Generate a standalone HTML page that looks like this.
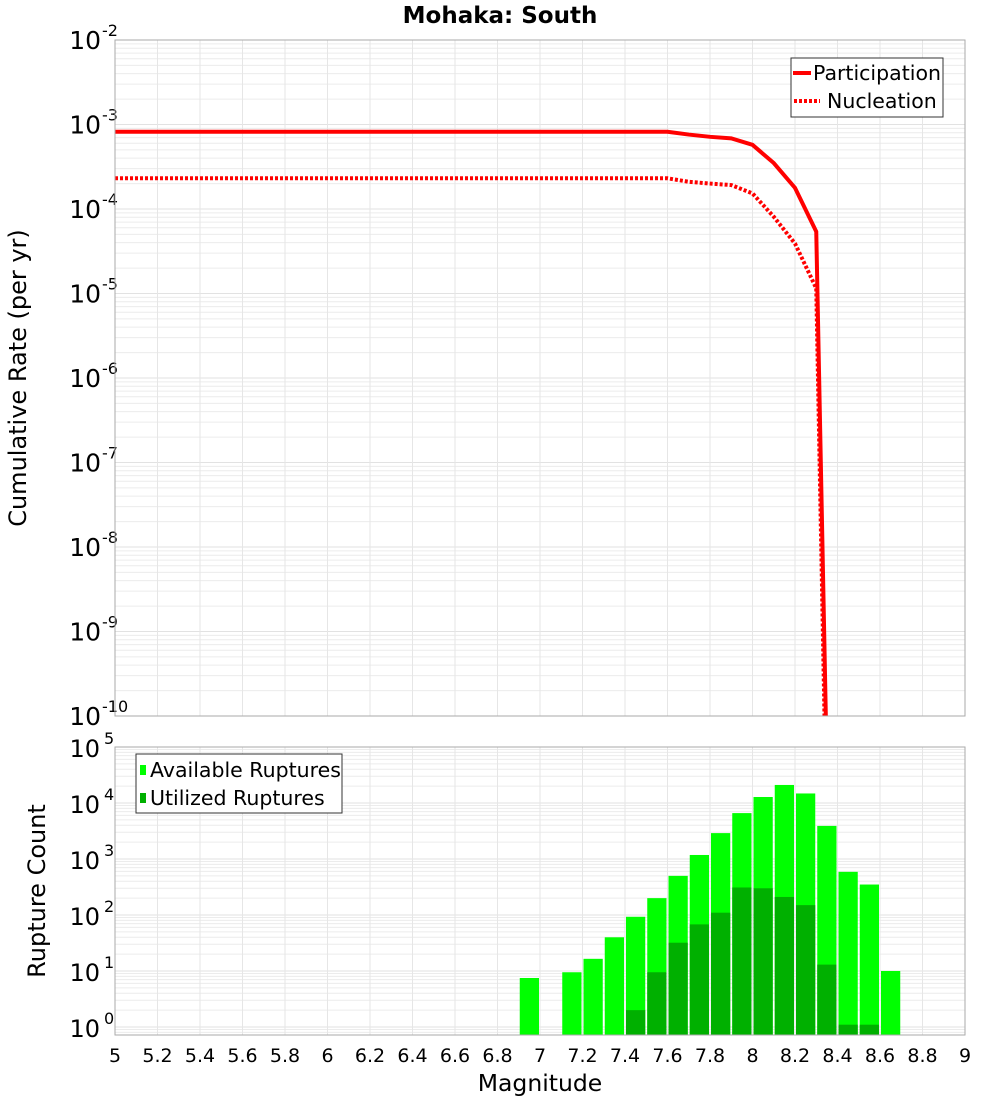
<!DOCTYPE html>
<html><head><meta charset="utf-8"><style>
html,body{margin:0;background:#fff;font-family:"DejaVu Sans","Liberation Sans",sans-serif;width:1000px;height:1100px;overflow:hidden;}
svg{display:block;}
svg text{font-family:"DejaVu Sans","Liberation Sans",sans-serif;}
</style></head><body>
<svg id="chart" width="1000" height="1100" xmlns="http://www.w3.org/2000/svg"></svg>
<script>
const magBins=[6.95,7.05,7.15,7.25,7.35,7.45,7.55,7.65,7.75,7.85,7.95,8.05,8.15,8.25,8.35,8.45,8.55,8.65];
const availCounts=[7.5,0,9.5,16.5,40,93,200,500,1180,2900,6600,12800,21000,14800,3900,590,350,10];
const utilCounts=[0,0,0,0,0,2,9.5,32,68,110,310,300,210,150,13,1.1,1.1,0];
const partMags=[5.0,7.6,7.7,7.8,7.9,8.0,8.1,8.2,8.3,8.4];
const partRates=[8.2e-4,8.2e-4,7.6e-4,7.15e-4,6.85e-4,5.75e-4,3.5e-4,1.78e-4,5.4e-5,1e-17];
const nuclMags=[5.0,7.6,7.7,7.8,7.9,8.0,8.1,8.2,8.3,8.4];
const nuclRates=[2.31e-4,2.31e-4,2.1e-4,2.0e-4,1.92e-4,1.53e-4,8.1e-5,3.9e-5,1.15e-5,1e-18];
const xTicks=[5,5.2,5.4,5.6,5.8,6,6.2,6.4,6.6,6.8,7,7.2,7.4,7.6,7.8,8,8.2,8.4,8.6,8.8,9];
const topDecades=[-2,-3,-4,-5,-6,-7,-8,-9,-10];
const botDecades=[5,4,3,2,1,0];

const NS="http://www.w3.org/2000/svg";
const svg=document.getElementById('chart');
function mk(tag,attrs,parent){const e=document.createElementNS(NS,tag);for(const k in attrs)e.setAttribute(k,attrs[k]);(parent||svg).appendChild(e);return e;}
const L=115,R=965;
const xS=m=>L+(m-5)/4*(R-L);
const T1=40,B1=716;
const yTop=v=>T1+(-2-Math.log10(v))*(B1-T1)/8;
const T2=747,B2=1035,dec2=56;
const yBot=v=>T2+(5-Math.log10(v))*dec2;

let t=mk('text',{x:500,y:23,'text-anchor':'middle','font-size':23,'font-weight':'bold'});t.textContent='Mohaka: South';


function grid(T,B,ymap,dmin,dmax,gname){
  const g=mk('g',{});
  
  for(let d=dmin;d<=dmax;d++){for(let k=1;k<10;k++){const y=ymap(k*Math.pow(10,d));if(y<T-0.5||y>B+0.5)continue;
    mk('line',{x1:L,x2:R,y1:y,y2:y,stroke:k==1?'#e2e2e2':'#ececec','stroke-width':1},g);}}
  xTicks.forEach(m=>{const x=xS(m);mk('line',{x1:x,x2:x,y1:T,y2:B,stroke:'#e6e6e6','stroke-width':1},g);});
}
grid(T1,B1,yTop,-10,-3,'top-grid');
grid(T2,B2,yBot,-1,4,'bottom-grid');

topDecades.forEach(d=>{const y=yTop(Math.pow(10,d));
  const tx=mk('text',{x:101,y:y+9,'text-anchor':'end','font-size':25});
  
  tx.textContent='10';
  const s=mk('text',{x:102,y:y-4,'font-size':16});s.textContent=String(d);
  });
botDecades.forEach(d=>{const y=yBot(Math.pow(10,d));
  const tx=mk('text',{x:100,y:y+10,'text-anchor':'end','font-size':24});tx.textContent='10';
  
  const s=mk('text',{x:104,y:y-3,'font-size':16});s.textContent=String(d);
  });
xTicks.forEach(m=>{const tx=mk('text',{x:xS(m),y:1062,'text-anchor':'middle','font-size':19});tx.textContent=String(m);
  });

t=mk('text',{x:540,y:1091,'text-anchor':'middle','font-size':23.5});t.textContent='Magnitude';

t=mk('text',{x:26,y:378,'text-anchor':'middle','font-size':24,transform:'rotate(-90 26 378)'});t.textContent='Cumulative Rate (per yr)';

t=mk('text',{x:45,y:891,'text-anchor':'middle','font-size':24,transform:'rotate(-90 45 891)'});t.textContent='Rupture Count';


const bw=(xS(5.1)-xS(5))-2;
magBins.forEach((m,i)=>{
  if(availCounts[i]>0){const y=yBot(availCounts[i]);const r=mk('rect',{x:xS(m)-bw/2,y:y,width:bw,height:B2-y,fill:'#00ff00'});
    }
  if(utilCounts[i]>0){const y=yBot(utilCounts[i]);const r=mk('rect',{x:xS(m)-bw/2,y:y,width:bw,height:B2-y,fill:'#00b000'});
    }
});

const cp=mk('clipPath',{id:'c1'});
mk('rect',{x:L,y:T1,width:R-L,height:B1-T1},cp);
let p=mk('polyline',{points:partMags.map((m,i)=>xS(m)+','+yTop(partRates[i])).join(' '),fill:'none',stroke:'#ff0000','stroke-width':4,'clip-path':'url(#c1)'});

p=mk('polyline',{points:nuclMags.map((m,i)=>xS(m)+','+yTop(nuclRates[i])).join(' '),fill:'none',stroke:'#ff0000','stroke-width':4,'stroke-dasharray':'3,2','clip-path':'url(#c1)'});


let f=mk('rect',{x:L,y:T1,width:R-L,height:B1-T1,fill:'none',stroke:'#aaa','stroke-width':1});

f=mk('rect',{x:L,y:T2,width:R-L,height:B2-T2,fill:'none',stroke:'#aaa','stroke-width':1});


let lg=mk('g',{});
mk('rect',{x:791,y:58,width:152,height:59,fill:'#fff',stroke:'#333','stroke-width':1},lg);
mk('line',{x1:793,x2:811,y1:73,y2:73,stroke:'#f00','stroke-width':4},lg);
t=mk('text',{x:813,y:80,'font-size':20.5},lg);t.textContent='Participation';
mk('line',{x1:794,x2:820,y1:101,y2:101,stroke:'#f00','stroke-width':4,'stroke-dasharray':'3,2'},lg);
t=mk('text',{x:827,y:108,'font-size':20.5},lg);t.textContent='Nucleation';
lg=mk('g',{});
mk('rect',{x:136,y:754,width:206,height:59,fill:'#fff',stroke:'#333','stroke-width':1},lg);
mk('rect',{x:140,y:765,width:6,height:10,fill:'#00ff00'},lg);
t=mk('text',{x:150,y:777,'font-size':20.5},lg);t.textContent='Available Ruptures';
mk('rect',{x:140,y:793,width:6,height:10,fill:'#00b000'},lg);
t=mk('text',{x:150,y:805,'font-size':20.5},lg);t.textContent='Utilized Ruptures';
</script>
</body></html>
